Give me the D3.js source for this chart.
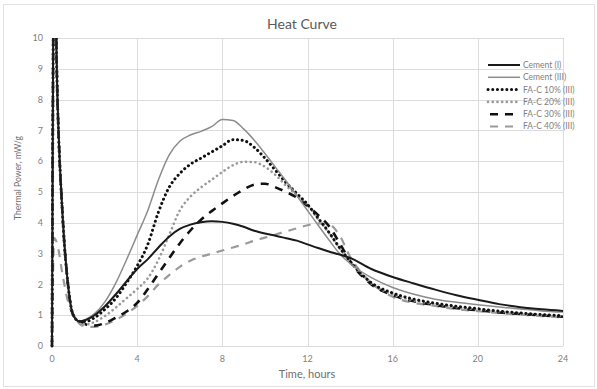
<!DOCTYPE html>
<html>
<head>
<meta charset="utf-8">
<script src="https://cdn.jsdelivr.net/npm/d3@7"></script>
<style>
  body { margin: 0; background: #fff; }
  svg { display: block; font-family: Lato, "Open Sans", sans-serif; }
</style>
</head>
<body>
<div id="chart"></div>
<script>
// time in hours, shared by every series
const hours = [0, 0.1, 0.25, 0.5, 0.75, 1, 1.3, 1.6, 2, 2.5, 3, 3.5, 4, 4.5, 5, 5.5, 6, 6.5, 7, 7.5, 8, 8.5, 9, 9.5, 10, 10.5, 11, 11.5, 12, 12.5, 13, 13.5, 14, 15, 16, 17, 18, 19, 20, 21, 22, 23, 24];

const cementI = [0, 13, 8.2, 4.2, 2.0, 1.0, 0.8, 0.85, 1.0, 1.3, 1.68, 2.1, 2.5, 2.82, 3.2, 3.55, 3.8, 3.94, 4.02, 4.05, 4.03, 3.97, 3.87, 3.74, 3.65, 3.58, 3.5, 3.42, 3.3, 3.18, 3.07, 2.97, 2.86, 2.5, 2.24, 2.03, 1.83, 1.65, 1.5, 1.36, 1.26, 1.19, 1.14];
const cementIII = [0, 13, 8.2, 4.2, 2.0, 1.0, 0.8, 0.87, 1.05, 1.45, 2.05, 2.8, 3.6, 4.4, 5.4, 6.2, 6.65, 6.85, 6.97, 7.12, 7.35, 7.32, 7.05, 6.68, 6.25, 5.8, 5.35, 4.88, 4.4, 3.92, 3.45, 3.0, 2.68, 2.22, 1.9, 1.68, 1.52, 1.42, 1.34, 1.27, 1.2, 1.14, 1.1];
const fac10 = [0, 13, 8.2, 4.2, 2.0, 1.0, 0.8, 0.8, 0.92, 1.2, 1.55, 2.05, 2.6, 3.3, 4.35, 5.15, 5.6, 5.9, 6.1, 6.3, 6.5, 6.7, 6.67, 6.45, 6.1, 5.7, 5.3, 4.95, 4.6, 4.15, 3.7, 3.2, 2.75, 2.05, 1.72, 1.52, 1.39, 1.29, 1.21, 1.13, 1.07, 1.02, 0.98];
const fac20 = [0, 13, 8.2, 4.2, 2.0, 1.0, 0.78, 0.7, 0.78, 0.98, 1.25, 1.55, 1.85, 2.2, 2.8, 3.6, 4.4, 4.85, 5.15, 5.4, 5.65, 5.87, 5.98, 5.97, 5.82, 5.55, 5.2, 4.9, 4.58, 4.12, 3.68, 3.18, 2.75, 2.03, 1.68, 1.48, 1.36, 1.26, 1.19, 1.12, 1.06, 1.01, 0.97];
const fac30 = [0, 13, 8.2, 4.2, 2.0, 1.0, 0.82, 0.7, 0.66, 0.75, 0.92, 1.12, 1.4, 1.85, 2.35, 2.85, 3.33, 3.75, 4.1, 4.38, 4.63, 4.87, 5.08, 5.24, 5.27, 5.15, 5.0, 4.82, 4.55, 4.25, 3.9, 3.35, 2.75, 2.0, 1.65, 1.45, 1.33, 1.23, 1.16, 1.09, 1.04, 0.99, 0.95];
const fac40 = [0, 3.5, 3.3, 2.3, 1.45, 1.0, 0.72, 0.63, 0.62, 0.7, 0.85, 1.05, 1.3, 1.62, 2.0, 2.3, 2.57, 2.77, 2.9, 3.0, 3.1, 3.2, 3.3, 3.42, 3.52, 3.62, 3.72, 3.82, 3.92, 3.98, 3.95, 3.6, 2.9, 2.05, 1.6, 1.4, 1.3, 1.2, 1.13, 1.07, 1.02, 0.97, 0.93];

const seriesNames = ["Cement (I)", "Cement (III)", "FA-C 10% (III)", "FA-C 20% (III)", "FA-C 30% (III)", "FA-C 40% (III)"];
const xTicks = [0, 4, 8, 12, 16, 20, 24];
const yTicks = [0, 1, 2, 3, 4, 5, 6, 7, 8, 9, 10];

const series = [
  { name: seriesNames[0], values: cementI, color: "#1a1a1a", width: 2, dash: null, cap: "butt" },
  { name: seriesNames[1], values: cementIII, color: "#8c8c8c", width: 1.5, dash: null, cap: "butt" },
  { name: seriesNames[2], values: fac10, color: "#111", width: 3, dash: "0.1,4.6", cap: "round" },
  { name: seriesNames[3], values: fac20, color: "#9a9a9a", width: 2.6, dash: "0.1,4.6", cap: "round" },
  { name: seriesNames[4], values: fac30, color: "#111", width: 2.6, dash: "8,7", cap: "butt" },
  { name: seriesNames[5], values: fac40, color: "#9a9a9a", width: 2.2, dash: "8,7", cap: "butt" }
];

const width = 597;
const height = 389;
const margin = { top: 38, right: 34, bottom: 43, left: 52 };
const chartWidth = width - margin.left - margin.right;
const chartHeight = height - margin.top - margin.bottom;

const svg = d3.select("#chart").append("svg")
  .attr("width", width)
  .attr("height", height);

svg.append("rect")
  .attr("x", 3.5).attr("y", 4.5)
  .attr("width", width - 6).attr("height", height - 7)
  .attr("fill", "#fff")
  .attr("stroke", "#e2e2e2");

svg.append("text")
  .attr("x", 302).attr("y", 29)
  .attr("text-anchor", "middle")
  .style("font-size", "14px")
  .style("fill", "#595959")
  .text("Heat Curve");

const g = svg.append("g")
  .attr("transform", `translate(${margin.left},${margin.top})`);

const x = d3.scaleLinear().domain([0, 24]).range([0, chartWidth]);
const y = d3.scaleLinear().domain([0, 10]).range([chartHeight, 0]);

// grid
g.append("g")
  .selectAll("line")
  .data(yTicks)
  .join("line")
  .attr("x1", 0).attr("x2", chartWidth)
  .attr("y1", (d) => Math.round(y(d)) + 0.5)
  .attr("y2", (d) => Math.round(y(d)) + 0.5)
  .attr("stroke", "#dcdcdc");

g.append("g")
  .selectAll("line")
  .data(xTicks)
  .join("line")
  .attr("y1", 0).attr("y2", chartHeight)
  .attr("x1", (d) => Math.round(x(d)) + 0.5)
  .attr("x2", (d) => Math.round(x(d)) + 0.5)
  .attr("stroke", "#dcdcdc");

// tick labels
g.append("g")
  .selectAll("text")
  .data(yTicks)
  .join("text")
  .attr("x", -9)
  .attr("y", (d) => y(d))
  .attr("dy", "0.35em")
  .attr("text-anchor", "end")
  .style("font-size", "9px")
  .style("fill", "#7f7f7f")
  .text((d) => d);

g.append("g")
  .selectAll("text")
  .data(xTicks)
  .join("text")
  .attr("x", (d) => x(d))
  .attr("y", chartHeight + 16)
  .attr("text-anchor", "middle")
  .style("font-size", "9px")
  .style("fill", "#7f7f7f")
  .text((d) => d);

svg.append("text")
  .attr("x", 307).attr("y", 378)
  .attr("text-anchor", "middle")
  .style("font-size", "11px")
  .style("fill", "#6f6f6f")
  .text("Time, hours");

svg.append("text")
  .attr("transform", "translate(21,178) rotate(-90)")
  .attr("text-anchor", "middle")
  .style("font-size", "8.6px")
  .style("fill", "#6f6f6f")
  .text("Thermal Power, mW/g");

// curves
svg.append("defs").append("clipPath").attr("id", "plot-clip")
  .append("rect")
  .attr("x", -2).attr("y", 0)
  .attr("width", chartWidth + 4).attr("height", chartHeight + 2);

const line = d3.line()
  .x((d, i) => x(hours[i]))
  .y((d) => y(d))
  .curve(d3.curveMonotoneX);

const curves = g.append("g").attr("clip-path", "url(#plot-clip)");

curves.selectAll("path")
  .data(series.slice().reverse())
  .join("path")
  .attr("fill", "none")
  .attr("stroke", (d) => d.color)
  .attr("stroke-width", (d) => d.width)
  .attr("stroke-dasharray", (d) => d.dash)
  .attr("stroke-linecap", (d) => d.cap)
  .attr("d", (d) => line(d.values));

// legend
const legend = svg.append("g").attr("transform", "translate(488,65)");
const rows = legend.selectAll("g")
  .data(series)
  .join("g")
  .attr("transform", (d, i) => `translate(0,${i * 12.3})`);

rows.append("line")
  .attr("x1", (d) => (d.dash && d.cap === "butt") ? 2 : 0)
  .attr("x2", 32)
  .attr("stroke", (d) => d.color)
  .attr("stroke-width", (d) => d.width)
  .attr("stroke-dasharray", (d) => d.dash)
  .attr("stroke-linecap", (d) => d.cap);

rows.append("text")
  .attr("x", 35)
  .attr("dy", "0.35em")
  .style("font-size", "8.5px")
  .style("fill", "#7f7f7f")
  .text((d) => d.name);
</script>
</body>
</html>
